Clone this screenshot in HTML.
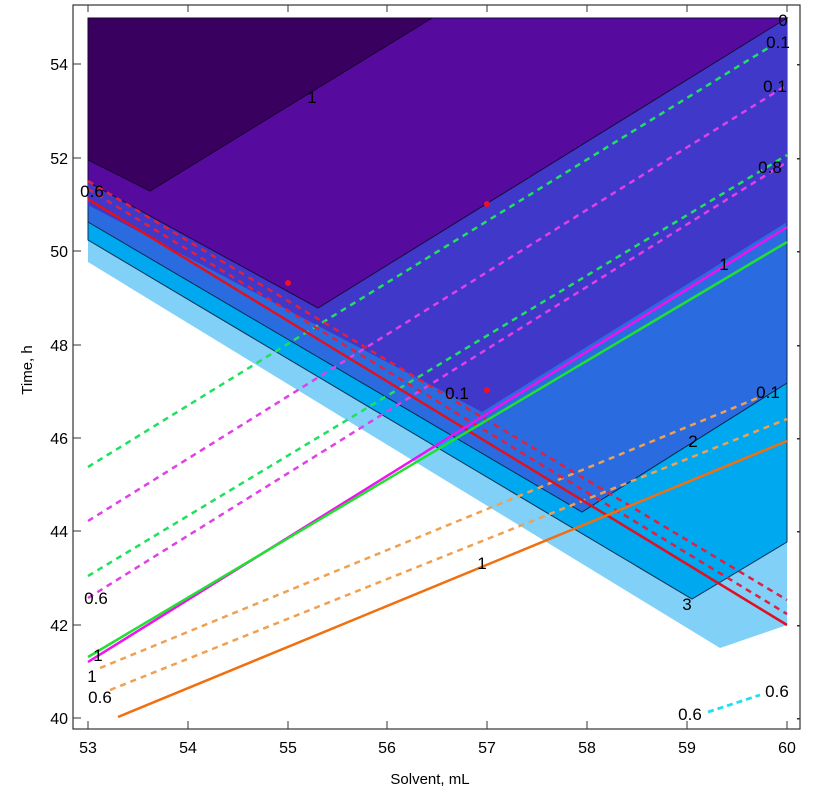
<!DOCTYPE html>
<html><head><style>body{margin:0;background:#fff}svg{display:block}text{font-family:"Liberation Sans",sans-serif}</style></head><body>
<svg width="832" height="811" viewBox="0 0 832 811" xmlns="http://www.w3.org/2000/svg">
<rect width="832" height="811" fill="#fff"/>
<polygon points="88,18 787,18 787,625 720,648 88,262" fill="#80d0f8"/>
<polygon points="88,18 787,18 787,542 692,599 88,240" fill="#00a8f0" stroke="#0a3050" stroke-width="1"/>
<polygon points="88,18 787,18 787,383 582,512 88,222" fill="#2a6ce0" stroke="#0a2a50" stroke-width="1"/>
<polygon points="88,18 787,18 787,222 482,412 88,205" fill="#4038c8"/>
<polygon points="88,18 787,18 318,308 88,182" fill="#560a9e" stroke="#1a0a40" stroke-width="1"/>
<polygon points="88,18 432,18 150,191 88,160" fill="#3a0060" stroke="#1a0030" stroke-width="1"/>
<g fill="none" stroke-width="2.5">
<line x1="88" y1="467" x2="768" y2="48" stroke="#20e060" stroke-dasharray="6,5"/>
<line x1="88" y1="576" x2="787" y2="155" stroke="#20e060" stroke-dasharray="6,5"/>
<line x1="88" y1="521" x2="787" y2="85" stroke="#e040e8" stroke-dasharray="6,5"/>
<line x1="88" y1="598" x2="787" y2="162" stroke="#e040e8" stroke-dasharray="6,5"/>
<line x1="100" y1="668" x2="760" y2="397" stroke="#f0a050" stroke-dasharray="6,5"/>
<line x1="110" y1="690" x2="787" y2="419" stroke="#f0a050" stroke-dasharray="6,5"/>
<line x1="88" y1="181" x2="787" y2="600" stroke="#e02040" stroke-dasharray="6,5"/>
<line x1="88" y1="189" x2="787" y2="614" stroke="#e02040" stroke-dasharray="6,5"/>
<line x1="88" y1="199" x2="787" y2="625" stroke="#e01020"/>
<line x1="88" y1="662" x2="787" y2="227" stroke="#f010f0"/>
<line x1="88" y1="657" x2="787" y2="242" stroke="#20e030"/>
<line x1="118" y1="717" x2="787" y2="441" stroke="#f07010"/>
<line x1="708" y1="712" x2="760" y2="695" stroke="#20e0f0" stroke-dasharray="6,4" stroke-width="2.8"/>
</g>
<g fill="#f01020"><circle cx="288" cy="283" r="3"/><circle cx="487" cy="204" r="3"/><circle cx="487" cy="390" r="3"/></g>
<g font-size="17" fill="#000" text-anchor="middle">
<text x="783" y="26">0</text><text x="778" y="48">0.1</text><text x="775" y="92">0.1</text>
<text x="770" y="173">0.8</text><text x="724" y="270">1</text><text x="312" y="103">1</text>
<text x="92" y="197">0.6</text><text x="457" y="399">0.1</text><text x="768" y="398">0.1</text>
<text x="693" y="447">2</text><text x="687" y="610">3</text><text x="482" y="569">1</text>
<text x="96" y="604">0.6</text><text x="98" y="661">1</text><text x="92" y="682">1</text>
<text x="100" y="703">0.6</text><text x="690" y="720">0.6</text><text x="777" y="697">0.6</text>
</g>
<rect x="73" y="5" width="727" height="724" fill="none" stroke="#333" stroke-width="1.2"/>
<g stroke="#333" stroke-width="1">
<line x1="88" y1="729" x2="88" y2="721"/><line x1="188" y1="729" x2="188" y2="721"/><line x1="288" y1="729" x2="288" y2="721"/><line x1="387" y1="729" x2="387" y2="721"/><line x1="487" y1="729" x2="487" y2="721"/><line x1="587" y1="729" x2="587" y2="721"/><line x1="687" y1="729" x2="687" y2="721"/><line x1="787" y1="729" x2="787" y2="721"/>
<line x1="88" y1="5" x2="88" y2="12"/><line x1="188" y1="5" x2="188" y2="12"/><line x1="288" y1="5" x2="288" y2="12"/><line x1="387" y1="5" x2="387" y2="12"/><line x1="487" y1="5" x2="487" y2="12"/><line x1="587" y1="5" x2="587" y2="12"/><line x1="687" y1="5" x2="687" y2="12"/><line x1="787" y1="5" x2="787" y2="12"/>
<line x1="73" y1="718" x2="81" y2="718"/><line x1="73" y1="625" x2="81" y2="625"/><line x1="73" y1="531" x2="81" y2="531"/><line x1="73" y1="438" x2="81" y2="438"/><line x1="73" y1="345" x2="81" y2="345"/><line x1="73" y1="251" x2="81" y2="251"/><line x1="73" y1="158" x2="81" y2="158"/><line x1="73" y1="64" x2="81" y2="64"/>
</g>
<g fill="#333">
<rect x="797" y="64" width="3" height="1.5"/><rect x="797" y="158" width="3" height="1.5"/><rect x="797" y="251" width="3" height="1.5"/><rect x="797" y="345" width="3" height="1.5"/><rect x="797" y="438" width="3" height="1.5"/><rect x="797" y="531" width="3" height="1.5"/><rect x="797" y="625" width="3" height="1.5"/><rect x="797" y="718" width="3" height="1.5"/>
</g>
<g font-size="16" fill="#000" text-anchor="middle">
<text x="88" y="753">53</text><text x="188" y="753">54</text><text x="288" y="753">55</text><text x="387" y="753">56</text><text x="487" y="753">57</text><text x="587" y="753">58</text><text x="687" y="753">59</text><text x="787" y="753">60</text>
<text x="430" y="784" font-size="15">Solvent, mL</text>
</g>
<g font-size="16" fill="#000" text-anchor="end">
<text x="68" y="724">40</text><text x="68" y="631">42</text><text x="68" y="537">44</text><text x="68" y="444">46</text><text x="68" y="351">48</text><text x="68" y="257">50</text><text x="68" y="164">52</text><text x="68" y="70">54</text>
</g>
<text x="32" y="370" font-size="15" text-anchor="middle" transform="rotate(-90 32 370)">Time, h</text>
</svg>
</body></html>
